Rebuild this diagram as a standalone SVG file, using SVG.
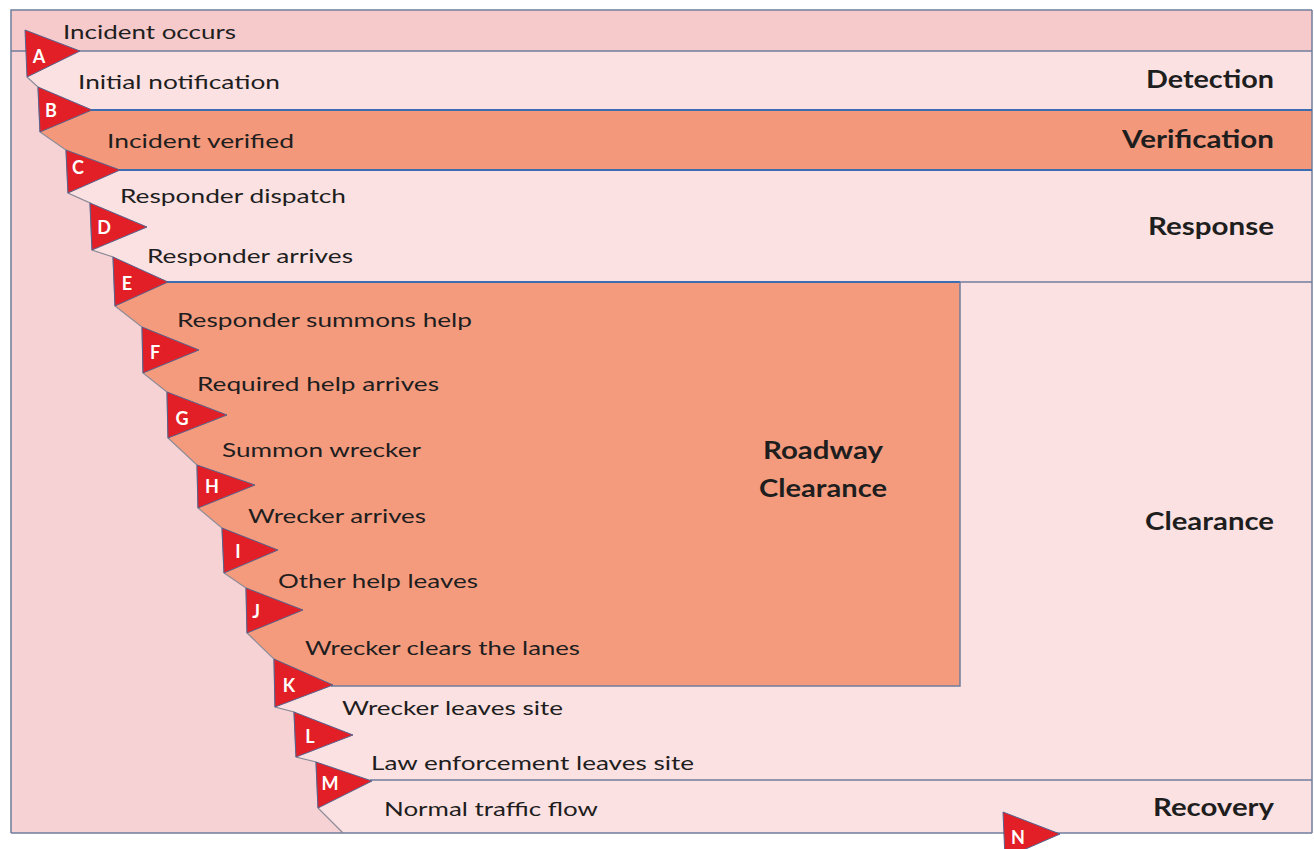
<svg xmlns="http://www.w3.org/2000/svg" width="1314" height="849" viewBox="0 0 1314 849">
  <defs>
    <style>
      .step { font-family: Lato, "Open Sans", "Liberation Sans", sans-serif; font-size: 20px; fill: #1e1e1e; }
      .phase { font-family: Lato, "Open Sans", "Liberation Sans", sans-serif; font-size: 24px; font-weight: bold; fill: #1e1e1e; }
      .flag { fill: #e21f26; stroke: #56638f; stroke-width: 1; stroke-linejoin: round; }
      .letter { font-family: Lato, "Liberation Sans", sans-serif; font-size: 18px; font-weight: bold; fill: #ffffff; text-anchor: middle; }
      .divider { stroke: #3c6db0; stroke-width: 2; fill: none; }
      .edge { stroke: #6f7d9c; stroke-width: 1.5; fill: none; }
    </style>
  </defs>

  <rect x="0" y="0" width="1314" height="849" fill="#ffffff"/>

  <!-- Phase bands -->
  <g id="bands">
    <rect id="band-incident" x="11" y="10" width="1301" height="41" fill="#f6c9ca"/>
    <rect id="band-detection" x="11" y="51" width="1301" height="59" fill="#fce1e2"/>
    <rect id="band-verification" x="11" y="110" width="1301" height="60" fill="#f4987b"/>
    <rect id="band-response" x="11" y="170" width="1301" height="112" fill="#fce1e2"/>
    <rect id="band-clearance" x="11" y="282" width="1301" height="498" fill="#fce1e2"/>
    <rect id="band-roadway" x="11" y="282" width="949" height="404" fill="#f49b7e"/>
    <rect id="band-recovery" x="11" y="780" width="1301" height="53" fill="#fce1e2"/>
  </g>

  <!-- Area left of the event timeline -->
  <polygon id="timeline-area" fill="#f7d2d4" points="11,51 25,51 27,77 38,87 40,132 66,150 68,193 90,203 92,250 113,257 115,306 142,327 143,373 167,392 168,438 197,465 198,508 222,528 224,573 246,588 247,633 274,659 275,707 294,712 296,757 316,762 318,808 343,833 11,833"/>

  <!-- Band boundaries -->
  <g id="boundaries">
    <polyline class="edge" points="1312,10 11,10 11,833"/>
    <line class="edge" x1="1312" y1="10" x2="1312" y2="833" stroke="#9aa2b8"/>
    <line class="edge" x1="11" y1="51" x2="1312" y2="51"/>
    <line class="divider" x1="90" y1="110" x2="1312" y2="110"/>
    <line class="divider" x1="118" y1="170" x2="1312" y2="170"/>
    <line class="divider" x1="166" y1="282" x2="960" y2="282"/>
    <line class="edge" x1="960" y1="282" x2="1312" y2="282"/>
    <polyline class="edge" points="960,282 960,686 331,686"/>
    <line class="edge" x1="370" y1="780" x2="1312" y2="780"/>
    <line class="edge" x1="11" y1="833" x2="1312" y2="833"/>
  </g>

  <!-- Event timeline connector -->
  <g id="connectors">
    <polyline fill="none" stroke="#8b8b98" stroke-width="1.2" points="27,77 38,87 40,132 66,150 68,193 90,203 92,250 113,257 115,306 142,327 143,373 167,392 168,438 197,465 198,508 222,528 224,573 246,588 247,633 274,659 275,707 294,712 296,757 316,762 318,808 343,833"/>
  </g>

  <!-- Event flags -->
  <g id="flag-A"><polygon class="flag" points="25,30 80,51 27,77"/><text class="letter" x="39" y="63">A</text></g>
  <g id="flag-B"><polygon class="flag" points="38,87 92,110 40,132"/><text class="letter" x="51" y="117">B</text></g>
  <g id="flag-C"><polygon class="flag" points="66,150 120,170 68,193"/><text class="letter" x="78" y="174">C</text></g>
  <g id="flag-D"><polygon class="flag" points="90,203 147,227 92,250"/><text class="letter" x="104" y="234">D</text></g>
  <g id="flag-E"><polygon class="flag" points="113,257 168,282 115,306"/><text class="letter" x="127" y="290">E</text></g>
  <g id="flag-F"><polygon class="flag" points="142,327 199,350 143,373"/><text class="letter" x="155" y="359">F</text></g>
  <g id="flag-G"><polygon class="flag" points="167,392 227,415 168,438"/><text class="letter" x="182" y="425">G</text></g>
  <g id="flag-H"><polygon class="flag" points="197,465 255,485 198,508"/><text class="letter" x="212" y="493">H</text></g>
  <g id="flag-I"><polygon class="flag" points="222,528 278,550 224,573"/><text class="letter" x="238" y="558">I</text></g>
  <g id="flag-J"><polygon class="flag" points="246,588 303,610 247,633"/><text class="letter" x="256" y="618">J</text></g>
  <g id="flag-K"><polygon class="flag" points="274,659 333,685 275,707"/><text class="letter" x="289" y="692">K</text></g>
  <g id="flag-L"><polygon class="flag" points="294,712 353,735 296,757"/><text class="letter" x="310" y="743">L</text></g>
  <g id="flag-M"><polygon class="flag" points="316,762 372,781 318,808"/><text class="letter" x="330" y="790">M</text></g>
  <g id="flag-N"><polygon class="flag" points="1003,812 1060,834 1005,858"/><text class="letter" x="1018" y="844">N</text></g>

  <!-- Event labels -->
  <g id="event-labels">
    <text class="step" x="63" y="39" textLength="173" lengthAdjust="spacingAndGlyphs">Incident occurs</text>
    <text class="step" x="78" y="89" textLength="202" lengthAdjust="spacingAndGlyphs">Initial notification</text>
    <text class="step" x="107" y="148" textLength="187" lengthAdjust="spacingAndGlyphs">Incident verified</text>
    <text class="step" x="120" y="203" textLength="226" lengthAdjust="spacingAndGlyphs">Responder dispatch</text>
    <text class="step" x="147" y="263" textLength="206" lengthAdjust="spacingAndGlyphs">Responder arrives</text>
    <text class="step" x="177" y="327" textLength="295" lengthAdjust="spacingAndGlyphs">Responder summons help</text>
    <text class="step" x="197" y="391" textLength="242" lengthAdjust="spacingAndGlyphs">Required help arrives</text>
    <text class="step" x="222" y="457" textLength="199" lengthAdjust="spacingAndGlyphs">Summon wrecker</text>
    <text class="step" x="248" y="523" textLength="178" lengthAdjust="spacingAndGlyphs">Wrecker arrives</text>
    <text class="step" x="278" y="588" textLength="200" lengthAdjust="spacingAndGlyphs">Other help leaves</text>
    <text class="step" x="305" y="655" textLength="275" lengthAdjust="spacingAndGlyphs">Wrecker clears the lanes</text>
    <text class="step" x="342" y="715" textLength="221" lengthAdjust="spacingAndGlyphs">Wrecker leaves site</text>
    <text class="step" x="371" y="770" textLength="323" lengthAdjust="spacingAndGlyphs">Law enforcement leaves site</text>
    <text class="step" x="384" y="816" textLength="214" lengthAdjust="spacingAndGlyphs">Normal traffic flow</text>
  </g>

  <!-- Phase labels -->
  <g id="phase-labels">
    <text class="phase" x="1146" y="88" textLength="128" lengthAdjust="spacingAndGlyphs">Detection</text>
    <text class="phase" x="1122" y="148" textLength="152" lengthAdjust="spacingAndGlyphs">Verification</text>
    <text class="phase" x="1148" y="235" textLength="126" lengthAdjust="spacingAndGlyphs">Response</text>
    <text class="phase" x="1145" y="530" textLength="129" lengthAdjust="spacingAndGlyphs">Clearance</text>
    <text class="phase" x="1153" y="816" textLength="121" lengthAdjust="spacingAndGlyphs">Recovery</text>
    <text class="phase" x="763" y="459" textLength="120" lengthAdjust="spacingAndGlyphs">Roadway</text>
    <text class="phase" x="759" y="497" textLength="128" lengthAdjust="spacingAndGlyphs">Clearance</text>
  </g>
</svg>
